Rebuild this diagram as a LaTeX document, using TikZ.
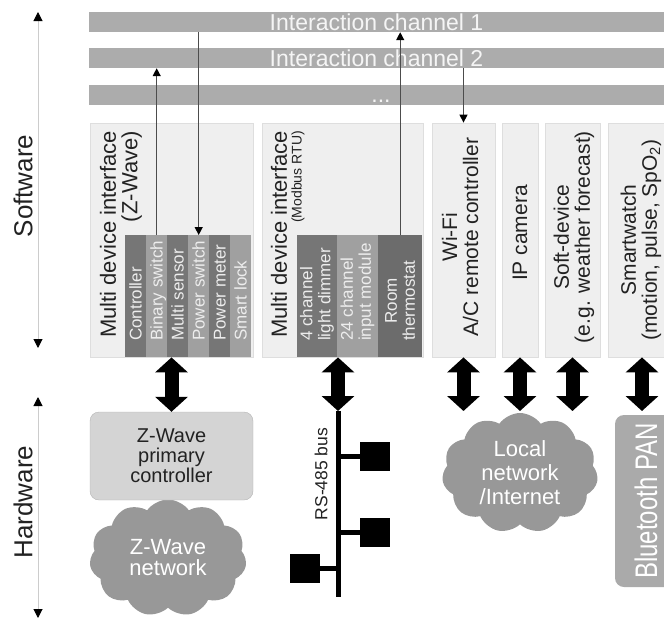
\documentclass[tikz,border=0pt]{standalone}
\usepackage{fontspec}
\setmainfont{Liberation Sans}
\usepackage{graphicx}
\usetikzlibrary{arrows.meta,shapes.symbols}
\definecolor{barcol}{RGB}{172,172,172}
\definecolor{boxcol}{RGB}{239,239,239}
\definecolor{boxline}{RGB}{222,222,222}
\definecolor{coldark}{RGB}{118,118,118}
\definecolor{collight}{RGB}{160,160,160}
\definecolor{coldeep}{RGB}{108,108,108}
\definecolor{cloudcol}{RGB}{152,152,152}
\definecolor{ctrlcol}{RGB}{212,212,212}
\definecolor{btcol}{RGB}{170,170,170}
\definecolor{txtcol}{RGB}{34,34,34}
\newcommand{\fsz}[2][]{\fontsize{#2}{#2}\selectfont}

\begin{document}
\begin{tikzpicture}[x=1pt,y=-1pt,
    chbar/.style={fill=barcol,minimum width=575pt,minimum height=20pt,inner sep=0pt,text=white!96!black,font=\fsz{23}},
    dev/.style={draw=boxline,fill=boxcol,line width=.8pt,inner sep=0pt,minimum height=234pt},
    col/.style={anchor=north west,minimum width=21pt,minimum height=122pt,inner sep=0pt},
    lbl/.style={rotate=90,inner sep=0pt,text=txtcol,font=\fsz{21}},
    coltxt/.style={rotate=90,inner sep=0pt,text=white!93!black,font=\fontsize{17}{18}\selectfont},
    link/.style={-{Triangle[length=8pt,width=8pt,black]},line width=1.3pt,black!70},
    big/.style={{Triangle[length=15pt,width=32pt]}-{Triangle[length=15pt,width=32pt]},line width=14pt},
    bus/.style={line width=5pt},
    sq/.style={fill=black,minimum width=30pt,minimum height=29pt,inner sep=0pt},
    axis/.style={{Triangle[length=9pt,width=9pt,black]}-{Triangle[length=9pt,width=9pt,black]},line width=1pt,black!20},
    net/.style={cloud,cloud puffs=11,cloud puff arc=110,aspect=1.3,fill=cloudcol,text=white,align=center,inner sep=0pt}
  ]
    \useasboundingbox (0,0) rectangle (664,624);
    \clip (0,0) rectangle (664,624);
    \coordinate (sw1) at (38,12); \coordinate (sw2) at (38,348);
    \coordinate (hw1) at (38,397); \coordinate (hw2) at (38,618);
    \draw[axis] (sw1)--(sw2); \draw[axis] (hw1)--(hw2);
    \node[lbl,font=\fsz{26}] (swl) at (23,186) {Software};
    \node[lbl,font=\fsz{26}] (hwl) at (23,502) {Hardware};
    \node[chbar] (ch1) at (376.5,22) {Interaction channel 1};
    \node[chbar] (ch2) at (376.5,58) {Interaction channel 2};
    \node[chbar] (ch3) at (376.5,95) {};
    \node[anchor=base,inner sep=0pt,text=white!96!black,font=\fsz{23}] (dots) at (381,102) {...};
    \foreach \n/\x/\w in {zw/171.5/163,mb/342.5/161,wifi/463.5/63,ipcam/520/36,soft/572.5/55,watch/642/68} {\node[dev,minimum width=\w pt] (\n) at (\x,240) {};}
    \foreach \i/\t/\c in {0/Controller/coldark,1/Binary switch/collight,2/Multi sensor/coldark,3/Power switch/collight,4/Power meter/coldark,5/Smart lock/collight} {
      \node[col,fill=\c] (zc\i) at ({125+21*\i},235) {};
      \node[coltxt,anchor=base west] (zt\i) at ({141.5+21*\i},341) {\t};}
    \foreach \i/\x/\w/\c in {1/297/40/coldark,2/337/41/collight,3/378/44/coldeep} {\node[col,fill=\c,minimum width=\w pt] (mc\i) at (\x,235) {};}
    \node[coltxt,anchor=west,align=left] (mt1) at (317,341) {4 channel\\light dimmer};
    \node[coltxt,anchor=west,align=left] (mt2) at (357.5,341) {24 channel\\input module};
    \node[coltxt,anchor=west,align=center] (mt3) at (400,341) {Room\\thermostat};
    \node[lbl,anchor=east,align=right,font=\fontsize{22}{21.5}\selectfont] (zwt) at (121,131) {Multi device interface\\(Z-Wave)};
    \node[lbl,anchor=east,font=\fsz{22}] (mbt) at (279,131) {Multi device interface};
    \node[lbl,anchor=east,font=\fsz{14}] (mbs) at (298,131) {(Modbus RTU)};
    \node[lbl,align=center] (wifit) at (460,237) {Wi-Fi\\A/C remote controller};
    \node[lbl] (ipt) at (520,233) {IP camera};
    \node[lbl,align=center] (softt) at (574,237) {Soft-device\\(e.g. weather forecast)};
    \node[lbl,align=center] (watcht) at (641,240) {Smartwatch\\(motion, pulse, SpO\textsubscript{2})};
    \draw[link] (ch1.south -| zc3) -- (zc3.north);
    \draw[link] (zc1.north) -- (zc1.north |- ch2.south);
    \draw[link] (mc3.north) -- (mc3.north |- ch1.south);
    \draw[link] (ch2.south -| wifi) -- (wifi.north);
    \coordinate (hwtop) at (0,411);
    \node[net,minimum width=157pt,minimum height=117pt,font=\fontsize{22}{21}\selectfont] (zwnet) at (168,558) {Z-Wave\\network};
    \node[draw=ctrlcol!85!black,fill=ctrlcol,rounded corners=9pt,minimum width=163pt,minimum height=88pt,align=center,text=txtcol,font=\fontsize{20}{20}\selectfont] (zwc) at (171.5,456) {Z-Wave\\primary\\controller};
    \draw[big] (zw.south -| zwc) -- (zwc.north);
    \coordinate (bustop) at (338,411); \coordinate (busend) at (338,597);
    \draw[big] (mb.south -| bustop) -- (bustop);
    \draw[bus] (bustop) -- (busend);
    \foreach \n/\x/\y in {m1/375/456,m2/375/532.5,m3/305/568} {\node[sq] (\n) at (\x,\y) {};}
    \draw[bus] (m1.west -| bustop) -- (m1.west); \draw[bus] (m2.west -| bustop) -- (m2.west);
    \draw[bus] (m3.east) -- (m3.east -| bustop);
    \node[lbl,font=\fsz{17.5}] (bust) at (321,474) {RS-485 bus};
    \node[net,minimum width=156pt,minimum height=120pt,font=\fontsize{22}{24}\selectfont] (lan) at (520,473) {Local\\network\\/Internet};
    \foreach \d in {wifi,ipcam,soft} {\draw[big] (\d.south) -- (\d.south |- hwtop);}
    \node[rotate=90,fill=btcol,rounded corners=9pt,minimum width=172pt,minimum height=62pt,inner sep=0pt,text=white,font=\fsz{24}] (bt) at (646,501) {\scalebox{1}[1.3]{Bluetooth PAN}};
    \draw[big] (watch.south) -- (watch.south |- hwtop);
\end{tikzpicture}
\end{document}
